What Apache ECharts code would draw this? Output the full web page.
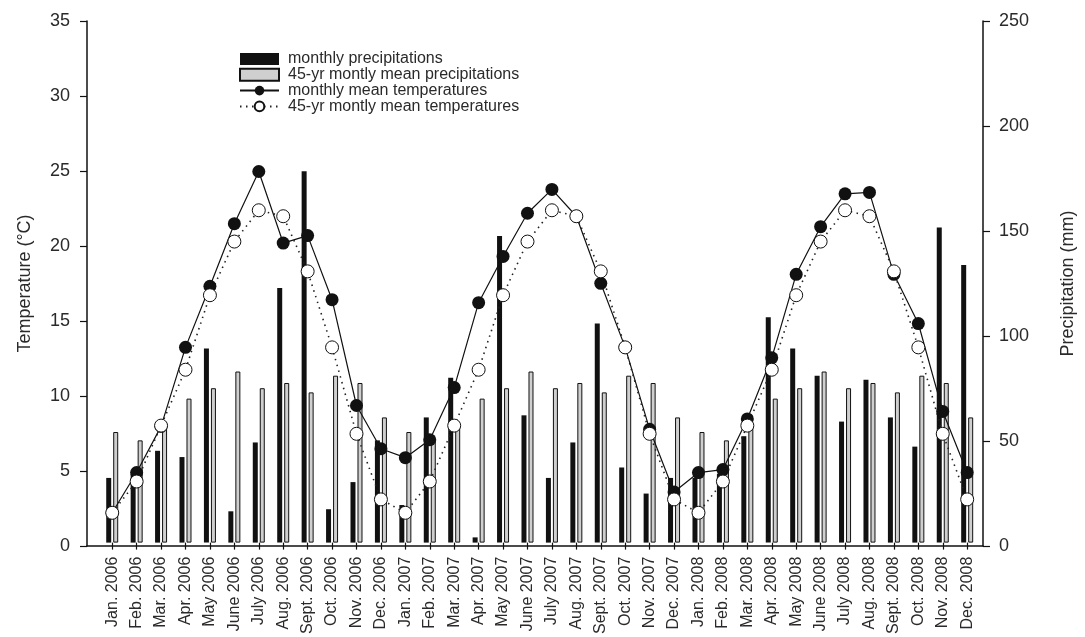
<!DOCTYPE html>
<html>
<head>
<meta charset="utf-8">
<script src="https://cdn.jsdelivr.net/npm/echarts@6/dist/echarts.min.js"></script>
<style>html,body{margin:0;padding:0;background:#fff}#c{width:1085px;height:637px}</style>
</head>
<body>
<div id="c"></div>
<script>
const months = ['Jan. 2006','Feb. 2006','Mar. 2006','Apr. 2006','May 2006','June 2006','July 2006','Aug. 2006','Sept. 2006','Oct. 2006','Nov. 2006','Dec. 2006',
'Jan. 2007','Feb. 2007','Mar. 2007','Apr. 2007','May 2007','June 2007','July 2007','Aug. 2007','Sept. 2007','Oct. 2007','Nov. 2007','Dec. 2007',
'Jan. 2008','Feb. 2008','Mar. 2008','Apr. 2008','May 2008','June 2008','July 2008','Aug. 2008','Sept. 2008','Oct. 2008','Nov. 2008','Dec. 2008'];
const monthlyPrecip = [31,33,44,41,93,15,48,122,178,16,29,49,
  18,60,79,2.5,147,61,31,48,105,36,23.5,31,
  31,33,51,108,93,80,58,78,60,46,151,133];
const meanPrecip = [53,49,55,69,74,82,74,76.5,72,80,76.5,60,
  53,49,55,69,74,82,74,76.5,72,80,76.5,60,
  53,49,55,69,74,82,74,76.5,72,80,76.5,60];
const monthlyTemp = [2.0,4.7,7.8,13.1,17.2,21.4,24.9,20.1,20.6,16.3,9.2,6.3,
  5.7,6.9,10.4,16.1,19.2,22.1,23.7,21.9,17.4,13.1,7.6,3.4,
  4.7,4.9,8.3,12.4,18.0,21.2,23.4,23.5,18.0,14.7,8.8,4.7];
const meanTemp = [2.0,4.1,7.85,11.6,16.6,20.2,22.3,21.9,18.2,13.1,7.3,2.9,
  2.0,4.1,7.85,11.6,16.6,20.2,22.3,21.9,18.2,13.1,7.3,2.9,
  2.0,4.1,7.85,11.6,16.6,20.2,22.3,21.9,18.2,13.1,7.3,2.9];
const tempTicks = {min:0, max:35, interval:5};
const precipTicks = {min:0, max:250, interval:50};
const seriesNames = ['monthly precipitations','45-yr montly mean precipitations','monthly mean temperatures','45-yr montly mean temperatures'];

const FONT = 'Liberation Sans, Arial, sans-serif';
const TXT = '#2a2a2a';
const LINE = '#111';

const chart = echarts.init(document.getElementById('c'), null, {renderer:'canvas'});
chart.setOption({
  animation:false,
  backgroundColor:'#fff',
  textStyle:{fontFamily:FONT},
  legend:{
    left:239, top:51, padding:0, orient:'vertical', itemWidth:39, itemHeight:12, itemGap:-0.2,
    textStyle:{fontFamily:FONT, fontSize:16, lineHeight:13, color:TXT, padding:[0,0,0,4]},
    data:[{name:seriesNames[0], icon:'rect'},{name:seriesNames[1], icon:'rect'},{name:seriesNames[2]},{name:seriesNames[3]}]
  },
  grid:[
    {left:87, right:93, top:21, bottom:91},
    {left:100, right:105.6, top:21, bottom:91}
  ],
  xAxis:[
    {gridIndex:0, type:'value', min:0, max:1, axisLine:{show:true, onZero:false, lineStyle:{color:LINE, width:1.5}}, axisTick:{show:false}, axisLabel:{show:false}, splitLine:{show:false}},
    {gridIndex:1, type:'category', data:months, axisLine:{show:false}, axisTick:{show:true, alignWithLabel:true, length:7, lineStyle:{color:LINE, width:1.2}},
     axisLabel:{rotate:90, fontSize:16, color:TXT, margin:14, interval:0, fontFamily:FONT}, splitLine:{show:false}}
  ],
  yAxis:[
    {gridIndex:0, type:'value', position:'left', min:tempTicks.min, max:tempTicks.max, interval:tempTicks.interval,
     name:'Temperature (°C)', nameLocation:'middle', nameGap:53, nameTextStyle:{fontSize:18, color:TXT, fontFamily:FONT},
     axisLine:{show:true, onZero:false, lineStyle:{color:LINE, width:1.5}}, axisTick:{show:true, length:7, lineStyle:{color:LINE, width:1.2}},
     axisLabel:{fontSize:18, color:TXT, margin:17, fontFamily:FONT}, splitLine:{show:false}},
    {gridIndex:0, type:'value', position:'right', min:precipTicks.min, max:precipTicks.max, interval:precipTicks.interval,
     name:'Precipitation (mm)', nameLocation:'middle', nameGap:76, nameRotate:90, nameTextStyle:{fontSize:18, color:TXT, fontFamily:FONT},
     axisLine:{show:true, onZero:false, lineStyle:{color:LINE, width:1.5}}, axisTick:{show:true, length:7, lineStyle:{color:LINE, width:1.2}},
     axisLabel:{fontSize:18, color:TXT, margin:16, fontFamily:FONT}, splitLine:{show:false}},
    {gridIndex:1, type:'value', min:tempTicks.min, max:tempTicks.max, show:false},
    {gridIndex:1, type:'value', min:precipTicks.min, max:precipTicks.max, show:false}
  ],
  series:[
    {name:seriesNames[0], type:'bar', xAxisIndex:1, yAxisIndex:3, data:monthlyPrecip, barWidth:5, barGap:'40%',
     itemStyle:{color:'#111'}},
    {name:seriesNames[1], type:'bar', xAxisIndex:1, yAxisIndex:3, data:meanPrecip, barWidth:5, barGap:'40%',
     itemStyle:{color:'#cfcfcf', borderColor:'#111', borderWidth:1}},
    {name:seriesNames[2], type:'line', xAxisIndex:1, yAxisIndex:2, data:monthlyTemp, symbol:'circle', symbolSize:13,
     lineStyle:{color:'#111', width:1.2}, itemStyle:{color:'#111'}},
    {name:seriesNames[3], type:'line', xAxisIndex:1, yAxisIndex:2, data:meanTemp, symbol:'circle', symbolSize:13,
     lineStyle:{color:'#222', width:1.6, type:[1.5,4.5]}, itemStyle:{color:'#fff', borderColor:'#111', borderWidth:1}}
  ]
});
</script>
</body>
</html>
